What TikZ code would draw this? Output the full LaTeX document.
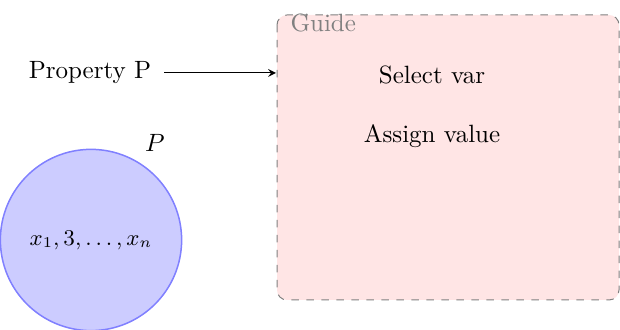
\documentclass[tikz,border=0pt]{standalone}
\begin{document}
\begin{tikzpicture}[x=0.4pt,y=-0.4pt,
  guidebox/.style={draw=gray, dashed, fill=red!10, rounded corners=4pt, line width=0.4pt},
  setcirc/.style={circle, draw=blue!50, fill=blue!20, line width=0.6pt, minimum size=72.5pt, inner sep=0pt, font=\small},
  plain/.style={inner sep=0pt}]
\useasboundingbox (0,0) rectangle (620,330);
\path[guidebox] (277,15) rectangle (619,300);
\node[plain, anchor=north west, text=gray] (guide) at (290,13) {Guide};
\node[plain] (sel) at (432,75) {Select var};
\node[plain] (asg) at (432,136) {Assign value};
\node[plain] (prop) at (90,73) {Property P};
\coordinate (arrend) at (276,73);
\draw[->, >=stealth] ([xshift=5pt]prop.east) -- (arrend);
\node[setcirc] (circ) at (91,240) {$x_1, 3, \ldots, x_n$};
\node[plain] (plab) at (155,143) {$P$};
\end{tikzpicture}
\end{document}
